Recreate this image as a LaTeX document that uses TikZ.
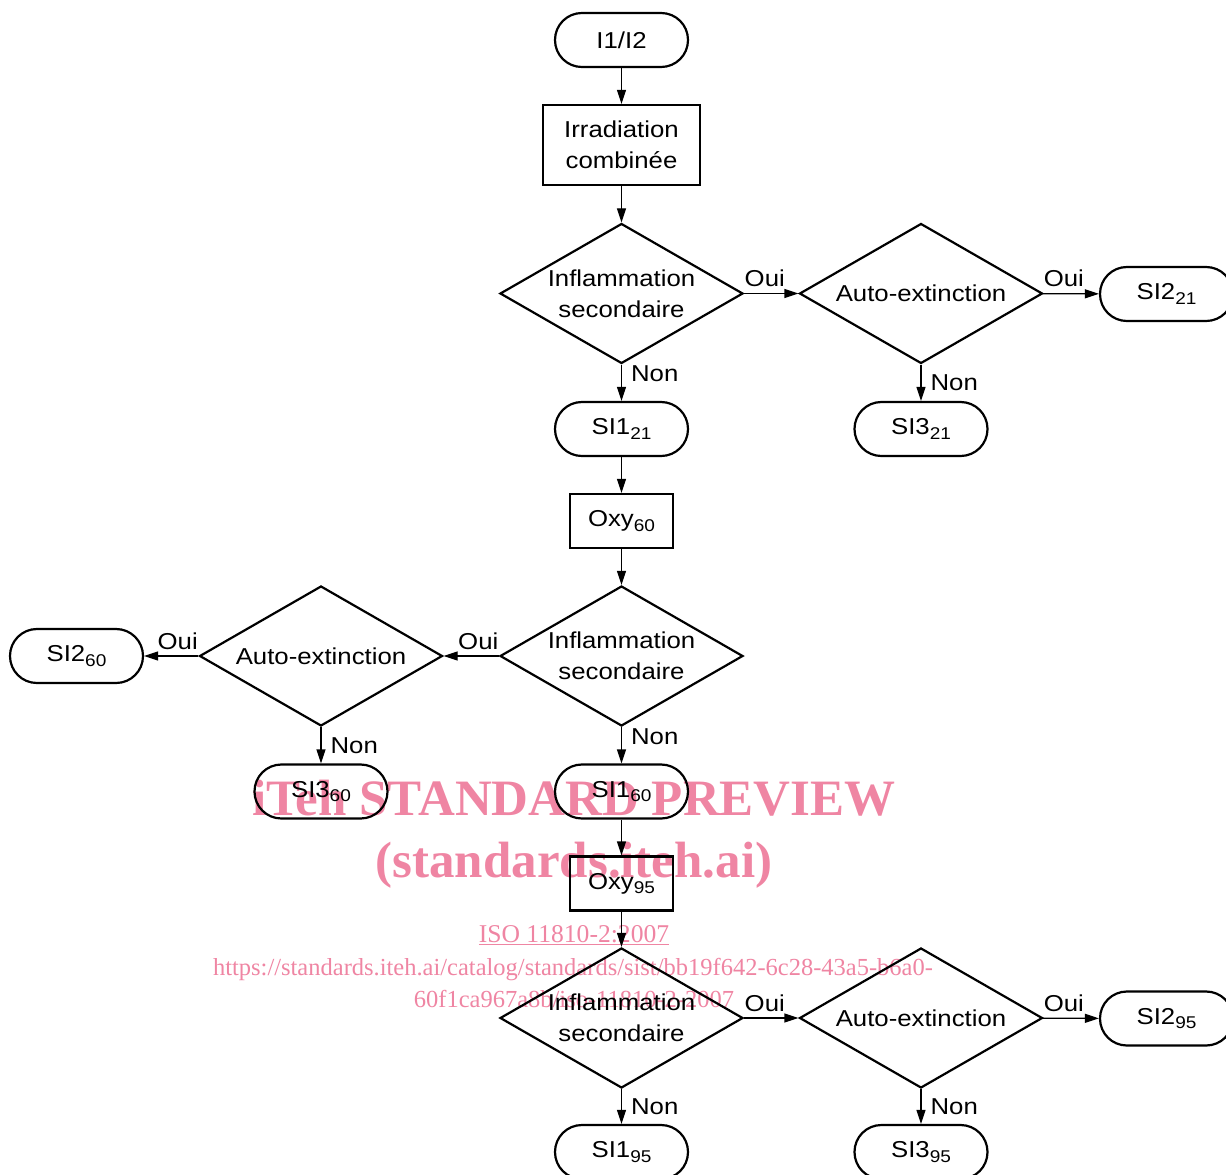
\documentclass[tikz,border=0pt]{standalone}
\usepackage{fontspec}
\setmainfont{Liberation Sans}[FakeStretch=1.12]
\newfontfamily\wmfont{Liberation Serif}
\usetikzlibrary{arrows.meta,positioning,shapes.geometric}
\newcommand{\idx}[1]{\raisebox{-4.5pt}{\fontsize{17}{17}\selectfont #1}}

\begin{document}
\begin{tikzpicture}[x=1pt, y=-1pt,
  % ---- colours --------------------------------------------------------
  /utils/exec={%
    \definecolor{wmpink}{RGB}{239,133,163}%
  },
  % ---- one style per kind of box ---------------------------------------
  basefont/.style={font=\fontsize{23}{31}\selectfont, inner sep=0pt},
  term/.style={basefont, draw, line width=2.2pt, rounded corners=26.9pt,
    minimum width=133pt, minimum height=54pt},
  proc/.style={basefont, draw, line width=2.2pt, align=center},
  dec/.style={diamond, draw, line width=2.2pt, minimum width=243pt,
    minimum height=140pt, inner sep=0pt},
  txt/.style={basefont, align=center},
  lbl/.style={basefont},
  flow/.style={draw, line width=1.2pt, -{Triangle[length=14pt,width=9pt]}},
  wm/.style={text=wmpink, inner sep=0pt, anchor=base},
]
\useasboundingbox (0,0) rectangle (1226,1175);
\clip (0,0) rectangle (1226,1175);

% =====================================================================
%  WATERMARK
% =====================================================================
\node[wm, font=\wmfont\bfseries\fontsize{51}{51}\selectfont] (wmtitle) at (574,815) {iTeh STANDARD PREVIEW};
\node[wm, font=\wmfont\bfseries\fontsize{51}{51}\selectfont] (wmsite) at (574,877) {(standards.iteh.ai)};
\node[wm, font=\wmfont\fontsize{25.6}{26}\selectfont] (wmiso) at (574,942) {\underline{ISO 11810-2:2007}};
\node[wm, font=\wmfont\fontsize{24.5}{26}\selectfont] (wmurl1) at (573,975) {https://standards.iteh.ai/catalog/standards/sist/bb19f642-6c28-43a5-b6a0-};
\node[wm, font=\wmfont\fontsize{24.5}{26}\selectfont] (wmurl2) at (574,1007) {60f1ca967a8b/iso-11810-2-2007};

% =====================================================================
%  STAGE 1 : combined irradiation
% =====================================================================
\node[term] (start) at (621.5,40) {I1/I2};
\node[proc, minimum width=157pt, minimum height=80pt] (irr) at (621.5,145) {Irradiation\\combinée};

\node[dec] (inf1) at (621.5,293.5) {};
\node[txt] (inf1t) at (inf1) {Inflammation\\secondaire};
\node[dec] (ae1) at (921,293.5) {};
\node[txt] (ae1t) at (ae1) {Auto-extinction};

\node[term] (si2a) at (1166.5,294) {SI2\idx{21}};
\node[term] (si3a) at (921,429) {SI3\idx{21}};
\node[term] (si1a) at (621.5,429) {SI1\idx{21}};

% =====================================================================
%  STAGE 2 : Oxy 60
% =====================================================================
\node[proc, minimum width=103pt, minimum height=54pt] (oxy60) at (621.5,521) {Oxy\idx{60}};

\node[dec] (inf2) at (621.5,656) {};
\node[txt] (inf2t) at (inf2) {Inflammation\\secondaire};
\node[dec] (ae2) at (321,656) {};
\node[txt] (ae2t) at (ae2) {Auto-extinction};

\node[term] (si2b) at (76.5,656) {SI2\idx{60}};
\node[term] (si3b) at (321,791.5) {SI3\idx{60}};
\node[term] (si1b) at (621.5,791.5) {SI1\idx{60}};

% =====================================================================
%  STAGE 3 : Oxy 95
% =====================================================================
\node[proc, minimum width=103pt, minimum height=54pt] (oxy95) at (621.5,883.5) {Oxy\idx{95}};

\node[dec] (inf3) at (621.5,1018) {};
\node[txt] (inf3t) at (inf3) {Inflammation\\secondaire};
\node[dec] (ae3) at (921,1018) {};
\node[txt] (ae3t) at (ae3) {Auto-extinction};

\node[term] (si2c) at (1166.5,1018.5) {SI2\idx{95}};
\node[term] (si1c) at (621.5,1152) {SI1\idx{95}};
\node[term] (si3c) at (921,1152) {SI3\idx{95}};

% =====================================================================
%  FLOW
% =====================================================================
\draw[flow] (start) -- (irr);
\draw[flow] (irr) -- (inf1);
\draw[flow] (inf1) -- node[lbl, pos=0, anchor=south west, yshift=6pt] (oui1) {Oui} (ae1);
\draw[flow] (ae1) -- node[lbl, pos=0, anchor=south west, yshift=6pt] (oui2) {Oui} (si2a);
\draw[flow] (inf1) -- node[lbl, pos=0, anchor=north west, xshift=9pt] (non1) {Non} (si1a);
\draw[flow] (ae1) -- node[lbl, pos=0, anchor=north west, xshift=9pt, yshift=-9pt] (non2) {Non} (si3a);

\draw[flow] (si1a) -- (oxy60);
\draw[flow] (oxy60) -- (inf2);
\draw[flow] (inf2) -- node[lbl, pos=0, anchor=south east, yshift=6pt] (oui3) {Oui} (ae2);
\draw[flow] (ae2) -- node[lbl, pos=0, anchor=south east, yshift=6pt] (oui4) {Oui} (si2b);
\draw[flow] (inf2) -- node[lbl, pos=0, anchor=north west, xshift=9pt, yshift=-1pt] (non3) {Non} (si1b);
\draw[flow] (ae2) -- node[lbl, pos=0, anchor=north west, xshift=9pt, yshift=-10pt] (non4) {Non} (si3b);

\draw[flow] (si1b) -- (oxy95);
\draw[flow] (oxy95) -- (inf3);
\draw[flow] (inf3) -- node[lbl, pos=0, anchor=south west, yshift=6pt] (oui5) {Oui} (ae3);
\draw[flow] (ae3) -- node[lbl, pos=0, anchor=south west, yshift=6pt] (oui6) {Oui} (si2c);
\draw[flow] (inf3) -- node[lbl, pos=0, anchor=north west, xshift=9pt, yshift=-9pt] (non5) {Non} (si1c);
\draw[flow] (ae3) -- node[lbl, pos=0, anchor=north west, xshift=9pt, yshift=-9pt] (non6) {Non} (si3c);

\end{tikzpicture}
\end{document}
